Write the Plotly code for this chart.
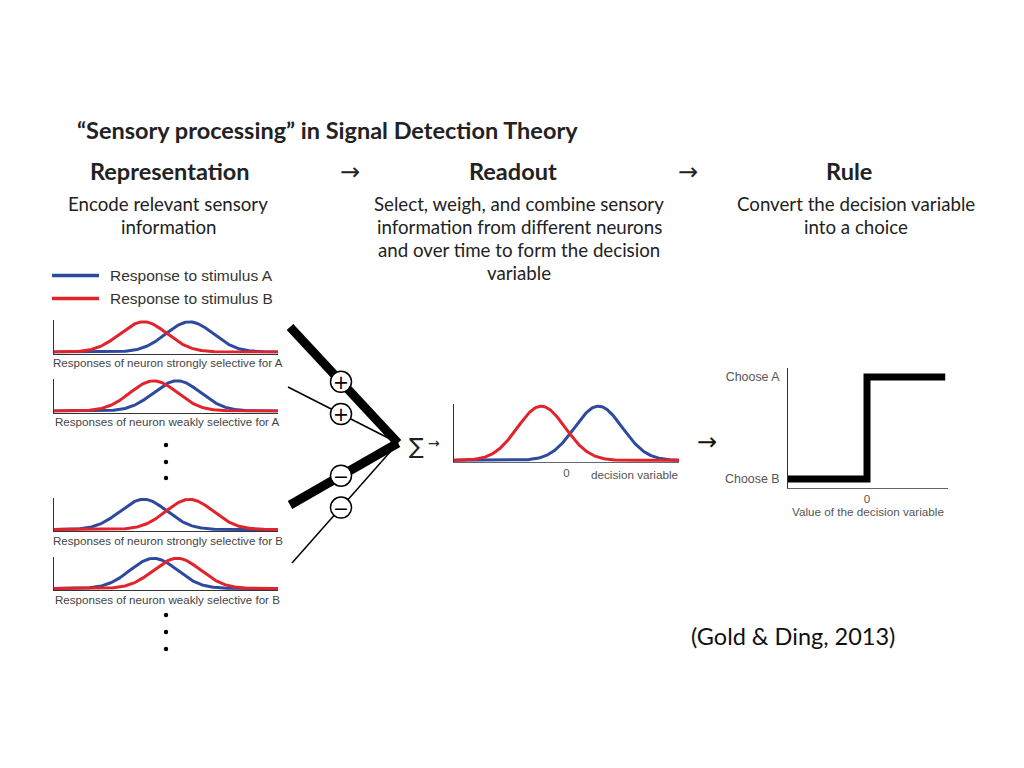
import numpy as np
import plotly.graph_objects as go

# the page adds an 8px body margin, so the figure is drawn 8px in from the corner
OFF = 8
W, H = 1024 - OFF, 768 - OFF

# ---------------- data ----------------
panel_captions = [
    "Responses of neuron strongly selective for A",
    "Responses of neuron weakly selective for A",
    "Responses of neuron strongly selective for B",
    "Responses of neuron weakly selective for B",
]
stimA_means = [6.05, 5.5, 4.0, 4.45]   # blue: response to stimulus A
stimB_means = [4.0, 4.45, 6.05, 5.5]   # red: response to stimulus B
neuron_sigma = 1.05

dv_mean_A = 1.42
dv_mean_B = -1.12
dv_sigma = 1.06
dv_tickvals = [0]
dv_ticktext = ["0"]

rule_x = [-1.0, 0.0, 0.99]
rule_y = [0, 1, 1]
rule_tickvals = [0, 1]
rule_ticktext = ["Choose B", "Choose A"]

weight_signs = ["+", "+", "\u2212", "\u2212"]

legend_labels = ["Response to stimulus A", "Response to stimulus B"]

BLUE = "#2d4b9e"
RED = "#e2232c"
SANS = "Lato, 'Open Sans', sans-serif"
ARIAL = "Liberation Sans, Arial, sans-serif"
GRAY = "#555555"


def gauss(x, m, s):
    return np.exp(-0.5 * ((x - m) / s) ** 2)


def px(x):
    return (x - OFF) / W


def py(y):
    return 1 - (y - OFF) / H


fig = go.Figure()
layout = {}
annotations = []
shapes = []

# ---------------- neuron panels ----------------
panel_tops = [320, 379, 497.5, 556.5]
x_left, x_right = 54, 278
xs = np.linspace(0, 10, 301)
for i, top in enumerate(panel_tops):
    k = i + 1
    sx = "" if k == 1 else str(k)
    base = top + 32
    layout["xaxis" + sx] = dict(
        domain=[px(x_left), px(x_right)], range=[0, 10], anchor="y" + sx,
        showgrid=False, zeroline=False, showticklabels=False, ticks="",
        showline=True, linecolor="#333", linewidth=1, fixedrange=True,
    )
    layout["yaxis" + sx] = dict(
        domain=[py(base + 1.5), py(top)], range=[-0.05, 1.06], anchor="x" + sx,
        showgrid=False, zeroline=False, showticklabels=False, ticks="",
        showline=True, linecolor="#333", linewidth=1, fixedrange=True,
    )
    fig.add_trace(go.Scatter(x=xs, y=gauss(xs, stimA_means[i], neuron_sigma),
                             mode="lines", line=dict(color=BLUE, width=3),
                             xaxis="x" + sx, yaxis="y" + sx, showlegend=False,
                             name=legend_labels[0]))
    fig.add_trace(go.Scatter(x=xs, y=gauss(xs, stimB_means[i], neuron_sigma),
                             mode="lines", line=dict(color=RED, width=3),
                             xaxis="x" + sx, yaxis="y" + sx, showlegend=False,
                             name=legend_labels[1]))
    annotations.append(dict(x=px(167.5), y=py(base + 10.5), xref="paper", yref="paper",
                            text=panel_captions[i], showarrow=False,
                            font=dict(family=ARIAL, size=11.6, color="#444"),
                            xanchor="center", yanchor="middle"))

# ---------------- decision variable panel ----------------
xd = np.linspace(-5, 5, 301)
layout["xaxis5"] = dict(
    domain=[px(454), px(679)], range=[-5, 5], anchor="y5",
    showgrid=False, zeroline=False, tickvals=dv_tickvals, ticktext=dv_ticktext,
    ticks="", tickfont=dict(family=ARIAL, size=11.5, color=GRAY),
    showline=True, linecolor="#666", linewidth=1, fixedrange=True,
)
layout["yaxis5"] = dict(
    domain=[py(462), py(404)], range=[-0.03, 1.04], anchor="x5",
    showgrid=False, zeroline=False, showticklabels=False, ticks="",
    showline=True, linecolor="#333", linewidth=1, fixedrange=True,
)
fig.add_trace(go.Scatter(x=xd, y=gauss(xd, dv_mean_A, dv_sigma), mode="lines",
                         line=dict(color=BLUE, width=3), xaxis="x5", yaxis="y5",
                         showlegend=False))
fig.add_trace(go.Scatter(x=xd, y=gauss(xd, dv_mean_B, dv_sigma), mode="lines",
                         line=dict(color=RED, width=3), xaxis="x5", yaxis="y5",
                         showlegend=False))
annotations.append(dict(x=px(680), y=py(474), xref="paper", yref="paper",
                        text="decision variable", showarrow=False,
                        font=dict(family=ARIAL, size=11.7, color=GRAY),
                        xanchor="right", yanchor="middle"))

# ---------------- rule panel ----------------
layout["xaxis6"] = dict(
    domain=[px(788), px(948)], range=[-1, 1.025], anchor="y6",
    showgrid=False, zeroline=False, tickvals=[0], ticktext=["0"], ticks="",
    tickfont=dict(family=ARIAL, size=11.5, color=GRAY),
    title=dict(text="Value of the decision variable", standoff=0,
               font=dict(family=ARIAL, size=11.7, color=GRAY)),
    showline=True, linecolor="#666", linewidth=1, fixedrange=True,
)
layout["yaxis6"] = dict(
    domain=[py(488), py(368)], range=[-0.088, 1.088], anchor="x6",
    showgrid=False, zeroline=False, tickvals=rule_tickvals, ticktext=rule_ticktext,
    ticks="", ticklabelstandoff=5,
    tickfont=dict(family=ARIAL, size=12.4, color=GRAY),
    showline=True, linecolor="#333", linewidth=1, fixedrange=True,
)
fig.add_trace(go.Scatter(x=rule_x, y=rule_y, mode="lines", line_shape="hv",
                         line=dict(color="black", width=7), xaxis="x6", yaxis="y6",
                         showlegend=False))

# ---------------- legend (drawn) ----------------
for j, (col, lab) in enumerate(zip([BLUE, RED], legend_labels)):
    yy = 275.5 + 23 * j
    shapes.append(dict(type="line", xref="paper", yref="paper",
                       x0=px(52), x1=px(99), y0=py(yy), y1=py(yy),
                       line=dict(color=col, width=3.5)))
    annotations.append(dict(x=px(108), y=py(yy), xref="paper", yref="paper",
                            text=lab, showarrow=False,
                            font=dict(family=ARIAL, size=15.5, color="#333"),
                            xanchor="left", yanchor="middle"))

# ---------------- vertical dots ----------------
for yy in [445, 462, 478, 615, 632, 649]:
    shapes.append(dict(type="circle", xref="paper", yref="paper",
                       x0=px(163.8), x1=px(168.2), y0=py(yy + 2.2), y1=py(yy - 2.2),
                       fillcolor="black", line=dict(width=0)))

# ---------------- weighting fan ----------------
conv = (398, 443)
fan_starts = [(290, 327), (288, 387), (290, 505), (292, 563)]
fan_widths = [9, 1.5, 9, 1.5]
for (sx0, sy0), lw in zip(fan_starts, fan_widths):
    shapes.append(dict(type="line", xref="paper", yref="paper",
                       x0=px(sx0), y0=py(sy0), x1=px(conv[0]), y1=py(conv[1]),
                       line=dict(color="black", width=lw)))
for (sx0, sy0), sign in zip(fan_starts, weight_signs):
    cx = 341
    t = (cx - sx0) / (conv[0] - sx0)
    cy = sy0 + t * (conv[1] - sy0)
    r = 10.5
    shapes.append(dict(type="circle", xref="paper", yref="paper",
                       x0=px(cx - r), x1=px(cx + r), y0=py(cy + r), y1=py(cy - r),
                       fillcolor="white", line=dict(color="black", width=1.5)))
    annotations.append(dict(x=px(cx), y=py(cy), xref="paper", yref="paper",
                            text=sign, showarrow=False,
                            font=dict(family="DejaVu Sans", size=19, color="black"),
                            xanchor="center", yanchor="middle"))

annotations.append(dict(x=px(416), y=py(446), xref="paper", yref="paper",
                        text="\u2211", showarrow=False,
                        font=dict(family="DejaVu Sans", size=22, color="#222"),
                        xanchor="center", yanchor="middle"))
annotations.append(dict(x=px(434), y=py(443), xref="paper", yref="paper",
                        text="\u2192", showarrow=False,
                        font=dict(family="DejaVu Sans", size=14, color="#222"),
                        xanchor="center", yanchor="middle"))
annotations.append(dict(x=px(707), y=py(442), xref="paper", yref="paper",
                        text="\u2192", showarrow=False,
                        font=dict(family="DejaVu Sans", size=24, color="#111"),
                        xanchor="center", yanchor="middle"))


# ---------------- titles and text ----------------
def txt(x, y, s, size, bold=False, color="#222", anchor="center", family=SANS):
    annotations.append(dict(x=px(x), y=py(y), xref="paper", yref="paper",
                            text=("<b>%s</b>" % s) if bold else s, showarrow=False,
                            font=dict(family=family, size=size, color=color),
                            xanchor=anchor, yanchor="middle"))


txt(75, 130, "\u201cSensory processing\u201d in Signal Detection Theory", 23.5,
    bold=True, anchor="left")
txt(170, 171, "Representation", 23.5, bold=True)
txt(350, 172, "\u2192", 24, family="DejaVu Sans")
txt(513, 171, "Readout", 23.5, bold=True)
txt(688, 172, "\u2192", 24, family="DejaVu Sans")
txt(849, 171, "Rule", 23.5, bold=True)

SUB = 18.7
txt(168, 204, "Encode relevant sensory", SUB)
txt(168, 227, "information", SUB)
txt(519, 204, "Select, weigh, and combine sensory", SUB)
txt(519, 227, "information from different neurons", SUB)
txt(519, 250, "and over time to form the decision", SUB)
txt(519, 273, "variable", SUB)
txt(856, 204, "Convert the decision variable", SUB)
txt(856, 227, "into a choice", SUB)

txt(793, 636, "(Gold &amp; Ding, 2013)", 23.5, color="#111")

layout.update(dict(
    width=W, height=H, margin=dict(l=0, r=0, t=0, b=0),
    paper_bgcolor="white", plot_bgcolor="white",
    showlegend=False, annotations=annotations, shapes=shapes,
))
fig.update_layout(**layout)
fig.write_html("out.html")
